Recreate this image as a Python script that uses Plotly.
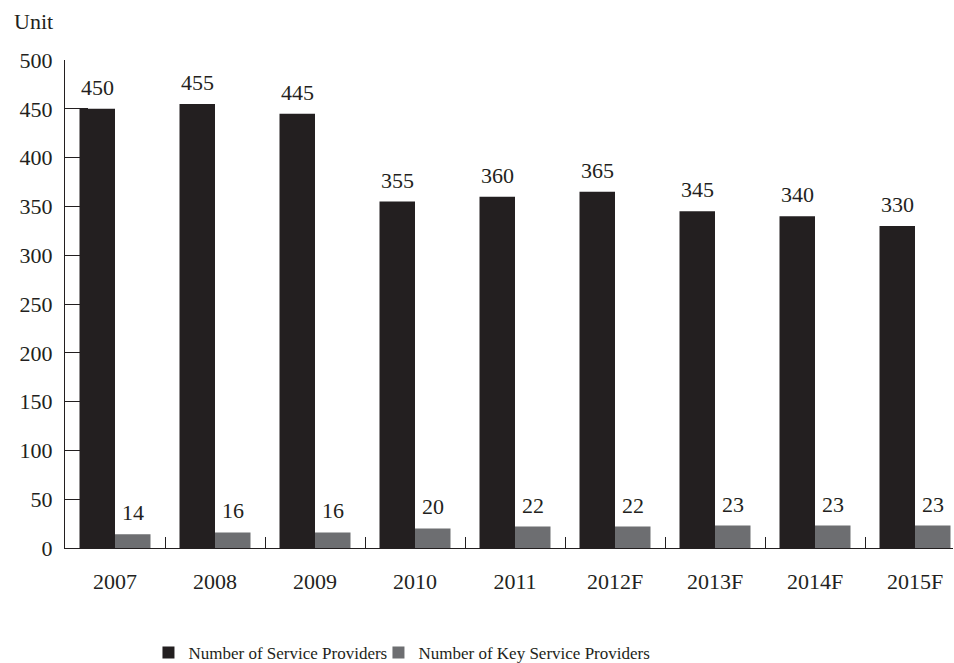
import plotly.graph_objects as go

years = ["2007", "2008", "2009", "2010", "2011", "2012F", "2013F", "2014F", "2015F"]
service_providers = [450, 455, 445, 355, 360, 365, 345, 340, 330]
key_service_providers = [14, 16, 16, 20, 22, 22, 23, 23, 23]

DARK = "#231f20"
GREY = "#6d6e71"
FONT = "Liberation Serif"

fig = go.Figure()
fig.add_trace(go.Bar(
    x=years, y=service_providers, name="Number of Service Providers",
    marker=dict(color=DARK, line=dict(width=0)), legend="legend",
))
fig.add_trace(go.Bar(
    x=years, y=key_service_providers, name="Number of Key Service Providers",
    marker=dict(color=GREY, line=dict(width=0)), legend="legend2",
))

# value labels above each bar; on a category axis the position is the category index,
# and bars in a group sit half a bar width either side of the category centre
labels = []
for series, shift in ((service_providers, -17.75), (key_service_providers, 17.75)):
    for i, v in enumerate(series):
        labels.append(dict(
            x=i, y=v, xref="x", yref="y", text=str(v), showarrow=False,
            xanchor="center", yanchor="bottom", xshift=shift, yshift=7,
            font=dict(family=FONT, size=22, color=DARK),
        ))

labels.append(dict(
    text="Unit", xref="paper", yref="paper",
    x=-0.0597, xanchor="left", y=1.078, yanchor="middle",
    showarrow=False, font=dict(family=FONT, size=22, color=DARK),
))

legend_style = dict(
    orientation="h", xref="paper", yref="container",
    xanchor="left", y=0.015, yanchor="middle",
    font=dict(family=FONT, size=17, color=DARK),
    bgcolor="rgba(0,0,0,0)",
)

fig.update_layout(
    width=954, height=663,
    margin=dict(l=65, r=1, t=60, b=115),
    paper_bgcolor="white", plot_bgcolor="white",
    barmode="group", bargap=0.29, bargroupgap=0,
    font=dict(family=FONT, size=22, color=DARK),
    showlegend=True,
    legend=dict(x=0.094, **legend_style),
    legend2=dict(x=0.353, **legend_style),
    xaxis=dict(
        type="category", range=[-0.5, 8.38],
        showline=True, linecolor=DARK, linewidth=1,
        ticks="inside", tickson="boundaries", ticklen=11, tickcolor=DARK, tickwidth=1,
        showgrid=False, zeroline=False, ticklabelstandoff=14,
        tickfont=dict(family=FONT, size=22, color=DARK),
    ),
    yaxis=dict(
        range=[0, 500], dtick=50, tick0=0,
        showline=True, linecolor=DARK, linewidth=1,
        ticks="inside", ticklen=23, tickcolor=DARK, tickwidth=1,
        showgrid=False, zeroline=False, ticklabelstandoff=7,
        tickfont=dict(family=FONT, size=22, color=DARK),
    ),
    annotations=labels,
)

fig.write_html("out.html")
